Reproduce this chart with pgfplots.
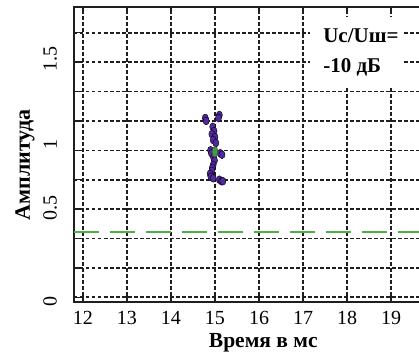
\documentclass[border=0pt]{standalone}
\usepackage{fontspec}
\setmainfont{Liberation Serif}
\usepackage{pgfplots}
\pgfplotsset{compat=1.18}
\definecolor{gridc}{rgb}{0.12,0.12,0.12}
\definecolor{ptc}{RGB}{80,40,160}
\definecolor{thr}{RGB}{80,175,70}
\definecolor{ctr}{RGB}{60,160,60}
\begin{document}
\begin{tikzpicture}
\path[use as bounding box, clip] (-74pt,-52.3pt) rectangle (345pt,301.7pt);
\begin{axis}[
  at={(0pt,0pt)}, anchor=south west,
  scale only axis, width=361.2pt, height=295pt,
  xmin=11.80, xmax=20, ymin=-0.03, ymax=1.977,
  xtick={12,13,14,15,16,17,18,19},
  ytick={0,0.2,0.4,0.6,0.8,1.0,1.2,1.4,1.6,1.8},
  yticklabels={},
  extra y ticks={-0.03,0.61,1.04,1.62},
  extra y tick labels={0,0.5,1,1.5},
  extra y tick style={major tick length=0pt, grid=none},
  xmajorgrids, ymajorgrids,
  grid style={gridc, line width=1.6pt, dash pattern=on 3.5pt off 2.5pt},
  tick align=inside,
  major tick length=7pt,
  tick style={gridc, line width=1.4pt},
  axis line style={gridc, line width=1.8pt},
  /pgf/number format/assume math mode=true,
  ticklabel style={font=\fontsize{20}{24}\selectfont},
  xticklabel style={anchor=north, inner sep=0pt},
  xticklabel shift=9pt,
  yticklabel style={rotate=90, anchor=south, inner sep=0pt},
  yticklabel shift=17pt,
  xlabel={Время в мс},
  xlabel style={at={(axis description cs:0.524,-0.1375)}, anchor=center, inner sep=0pt, font=\bfseries\fontsize{21.5}{26}\selectfont},
  ylabel={Амплитуда},
  ylabel style={at={(axis description cs:-0.1357,0.463)}, anchor=center, inner sep=0pt, font=\bfseries\fontsize{22}{26}\selectfont},
]
\addplot[thr, line width=2.6pt, dash pattern=on 25pt off 11pt] coordinates {(11.80,0.444) (20,0.444)};
\addplot[only marks, mark=*, mark size=3.6pt, mark options={draw=none, fill=ptc, xscale=0.85, yscale=1.1}] coordinates {
(14.78,1.22) (14.80,1.20) (15.10,1.24) (15.08,1.22)
(14.95,1.16) (14.98,1.13) (14.93,1.11) (15.00,1.09) (14.96,1.07) (15.02,1.05)
(14.90,1.00) (14.92,0.98) (15.12,0.98) (15.16,0.97)
(14.97,0.95) (14.99,0.93) (14.96,0.90) (14.94,0.88) (14.93,0.86)
(14.89,0.84) (14.91,0.82) (14.96,0.81) (15.10,0.80) (15.15,0.79) (15.18,0.79)
};
\addplot[only marks, mark=*, mark size=3.2pt, mark options={draw=black!70, fill=ctr, xscale=0.9, yscale=1.7, line width=0.6pt}] coordinates {(15.0,0.99)};
\fill[white] (axis cs:17.16,1.907) rectangle (axis cs:19.27,1.424);
\node[anchor=north west, align=left, inner sep=0pt, font=\bfseries\fontsize{21}{30}\selectfont] at (axis cs:17.455,1.832) {Uc/Uш=\\-10 дБ};
\end{axis}
\end{tikzpicture}
\end{document}
